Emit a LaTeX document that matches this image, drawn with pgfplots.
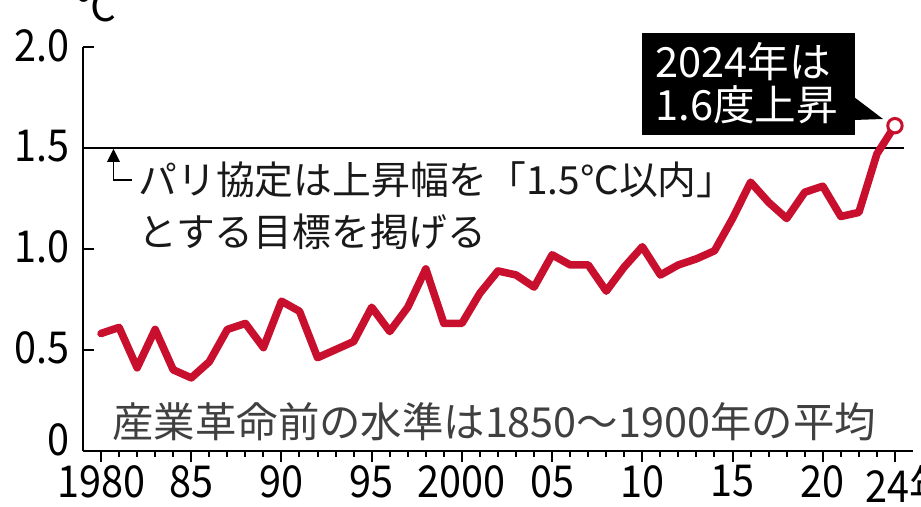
\documentclass[border=0pt]{standalone}
\usepackage{pgfplots}
\pgfplotsset{compat=1.18}
\usepackage{fontspec}
\setmainfont{Noto Sans CJK JP}
\newfontfamily\numfont[FakeStretch=0.9]{Noto Sans CJK JP}
\definecolor{linered}{RGB}{200,16,46}
\pgfplotstableread{
year val
1980 0.58
1981 0.61
1982 0.41
1983 0.60
1984 0.40
1985 0.36
1986 0.44
1987 0.60
1988 0.63
1989 0.51
1990 0.74
1991 0.69
1992 0.46
1993 0.50
1994 0.54
1995 0.71
1996 0.59
1997 0.71
1998 0.90
1999 0.63
2000 0.63
2001 0.78
2002 0.89
2003 0.87
2004 0.81
2005 0.97
2006 0.92
2007 0.92
2008 0.79
2009 0.91
2010 1.01
2011 0.87
2012 0.92
2013 0.95
2014 0.99
2015 1.15
2016 1.33
2017 1.23
2018 1.15
2019 1.28
2020 1.31
2021 1.16
2022 1.18
2023 1.47
2024 1.61
}\temps
\begin{document}
\begin{tikzpicture}
\begin{axis}[
  at={(41.5pt,-225.25pt)}, anchor=south west,
  scale only axis, width=415pt, height=201.75pt,
  xmin=1979, xmax=2025, ymin=0, ymax=2,
  axis x line*=bottom, axis y line*=left,
  axis line style={-, line width=1pt, black},
  xtick={1980,1985,...,2020},
  xticklabels={1980,85,90,95,2000,05,10,15,20},
  minor xtick={1980,...,2024},
  extra x ticks={2024},
  extra x tick labels={\kern-7pt 24\rlap{年}},
  ytick={0.5,1,1.5,2},
  yticklabels={0.5,1.0,1.5,2.0},
  extra y ticks={0},
  extra y tick labels={0},
  extra y tick style={yticklabel style={yshift=4.5pt}},
  xtick align=outside, ytick align=inside,
  major tick length=5.5pt, minor tick length=3pt,
  every tick/.style={black, line width=1pt},
  tick label style={font=\numfont\fontsize{22}{22}\selectfont, black},
  xticklabel style={yshift=1.5pt},
  yticklabel style={xshift=-3pt, yshift=0.8pt},
  clip=false,
]
\addplot[black, line width=1pt] coordinates {(1979,1.5) (2024.5,1.5)};
\addplot[linered, line width=3.8pt, line join=round, line cap=round] table[x=year, y=val] {\temps};
\addplot[only marks, mark=*, mark size=3.6pt, mark options={fill=white, draw=linered, line width=1.5pt}] coordinates {(2024,1.61)};
\end{axis}
\begin{scope}[x=0.5pt, y=-0.5pt]
  % unit label
  \node[anchor=base west, inner sep=0, font=\fontsize{20}{20}\selectfont] at (76,22) {℃};
  % Paris note
  \draw[line width=0.8pt] (132,180) -- (113.5,180) -- (113.5,160);
  \fill (107,162) -- (120,162) -- (113.5,149) -- cycle;
  \node[anchor=west, inner sep=0, font=\fontsize{19.4}{19.4}\selectfont, black!90] at (138,180) {パリ協定は上昇幅を「1.5℃以内」};
  \node[anchor=west, inner sep=0, font=\fontsize{19.4}{19.4}\selectfont, black!90] at (138,232) {とする目標を掲げる};
  % baseline note
  \node[anchor=west, inner sep=0, font=\fontsize{20.7}{20.7}\selectfont, black!75] at (112,422) {産業革命前の水準は1850〜1900年の平均};
  % callout box
  \fill[black] (642,33) rectangle (855,135);
  \fill[black] (854,97) -- (883,119) -- (854,120) -- cycle;
  \node[anchor=west, inner sep=0, font=\fontsize{20.8}{20.8}\selectfont, white] at (655,62) {2024年は};
  \node[anchor=west, inner sep=0, font=\fontsize{20.8}{20.8}\selectfont, white] at (655,105) {1.6度上昇};
\end{scope}
\pgfresetboundingbox
\useasboundingbox (0,0) rectangle (460.5pt,-253.5pt);
\end{tikzpicture}
\end{document}
